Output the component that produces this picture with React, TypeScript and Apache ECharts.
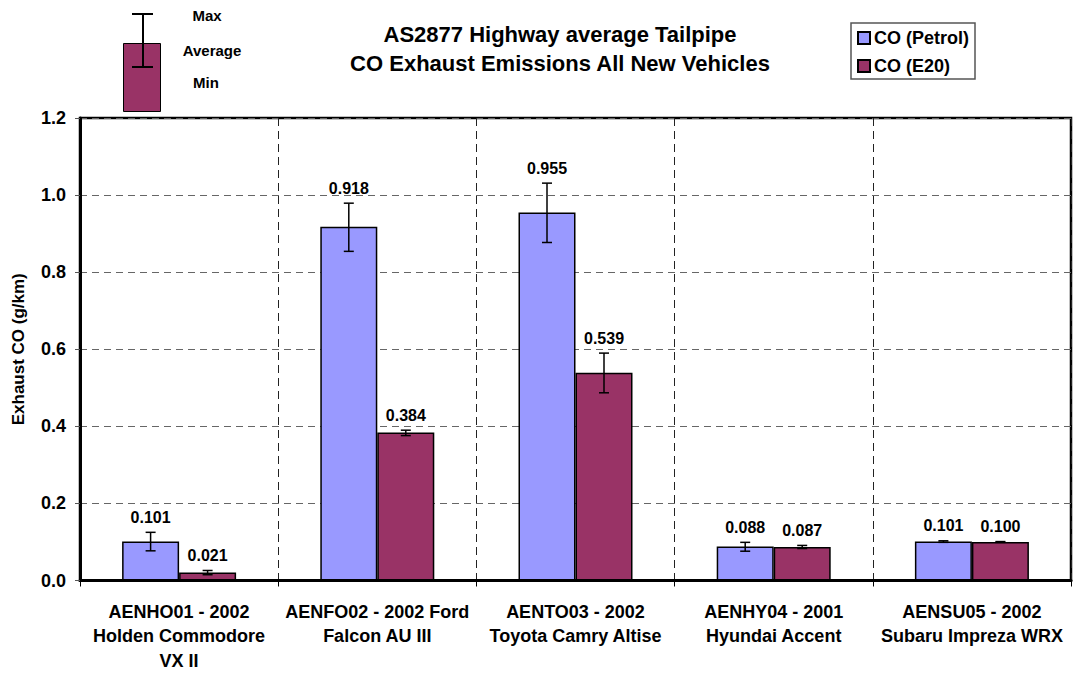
import React, { useEffect, useRef } from "react";
import * as echarts from "echarts";

const categories = [
  "AENHO01 - 2002\nHolden Commodore\nVX II",
  "AENFO02 - 2002 Ford\nFalcon AU III",
  "AENTO03 - 2002\nToyota Camry Altise",
  "AENHY04 - 2001\nHyundai Accent",
  "AENSU05 - 2002\nSubaru Impreza WRX",
];
const seriesNames = ["CO (Petrol)", "CO (E20)"];
const petrolAvg = [0.101, 0.918, 0.955, 0.088, 0.101];
const petrolMin = [0.077, 0.854, 0.877, 0.076, 0.099];
const petrolMax = [0.125, 0.979, 1.031, 0.099, 0.103];
const e20Avg = [0.021, 0.384, 0.539, 0.087, 0.1];
const e20Min = [0.015, 0.376, 0.487, 0.083, 0.099];
const e20Max = [0.026, 0.39, 0.59, 0.091, 0.101];
const yTicks = [0, 0.2, 0.4, 0.6, 0.8, 1.0, 1.2];

const FONT = "'Liberation Sans', Arial, sans-serif";
const BAR_W = 57;
const COLORS = ["#9999FF", "#993366"];

function errorSeries(name: string, avg: number[], mn: number[], mx: number[], offset: number) {
  return {
    type: "custom",
    name,
    z: 5,
    encode: { x: 0, y: [1, 2, 3] },
    data: avg.map((v, i) => [i, v, mn[i], mx[i]]),
    renderItem: (params: any, api: any) => {
      const cat = api.value(0);
      const a = api.value(1);
      const lo = api.value(2);
      const hi = api.value(3);
      const base = api.coord([cat, a]);
      const x = base[0] + offset;
      const yHi = api.coord([cat, hi])[1];
      const yLo = api.coord([cat, lo])[1];
      const cap = 5;
      const st = { stroke: "#000", lineWidth: 1.5 };
      return {
        type: "group",
        children: [
          { type: "line", shape: { x1: x, y1: yHi, x2: x, y2: yLo }, style: st },
          { type: "line", shape: { x1: x - cap, y1: yHi, x2: x + cap, y2: yHi }, style: st },
          { type: "line", shape: { x1: x - cap, y1: yLo, x2: x + cap, y2: yLo }, style: st },
          {
            type: "text",
            x,
            y: yHi - 15,
            style: {
              text: a.toFixed(3),
              fill: "#000",
              font: `bold 16px ${FONT}`,
              align: "center",
              verticalAlign: "middle",
            },
          },
        ],
      };
    },
  };
}

export default function App() {
  const ref = useRef<HTMLDivElement>(null);
  useEffect(() => {
    if (!ref.current) return;
    const chart = echarts.init(ref.current, null, { renderer: "svg" });
    chart.setOption({
      animation: false,
      backgroundColor: "#fff",
      textStyle: { fontFamily: FONT },
      title: {
        text: "AS2877 Highway average Tailpipe\nCO Exhaust Emissions All New Vehicles",
        left: 560,
        top: 20,
        padding: 0,
        textAlign: "center",
        textStyle: { fontSize: 22, fontWeight: "bold", color: "#000", lineHeight: 29, fontFamily: FONT },
      },
      legend: {
        data: seriesNames,
        orient: "vertical",
        left: 851,
        top: 23,
        padding: [6, 6, 4, 6],
        itemGap: 10,
        itemWidth: 12,
        itemHeight: 12,
        icon: "rect",
        borderColor: "#555",
        borderWidth: 1.5,
        textStyle: { fontSize: 18, fontWeight: "bold", color: "#000", fontFamily: FONT, padding: [0, 0, 0, -1] },
      },
      grid: {
        left: 80,
        right: 2,
        top: 118,
        bottom: 92,
        show: true,
        borderColor: "#000",
        borderWidth: 2.5,
        backgroundColor: "transparent",
      },
      xAxis: {
        type: "category",
        data: categories,
        axisLine: { show: true, lineStyle: { color: "#000", width: 3 } },
        axisTick: { show: true, length: 6, lineStyle: { color: "#000", width: 1 } },
        splitLine: { show: true, lineStyle: { color: "#222", type: [8, 5], width: 1 } },
        axisLabel: {
          interval: 0,
          margin: 19,
          fontSize: 18,
          fontWeight: "bold",
          color: "#000",
          lineHeight: 24.5,
          fontFamily: FONT,
        },
      },
      yAxis: {
        type: "value",
        min: yTicks[0],
        max: yTicks[yTicks.length - 1],
        interval: 0.2,
        name: "Exhaust CO (g/km)",
        nameLocation: "middle",
        nameGap: 53,
        nameTextStyle: { fontSize: 17, fontWeight: "bold", color: "#000", fontFamily: FONT },
        axisLine: { show: true, lineStyle: { color: "#000", width: 3 } },
        axisTick: { show: true, length: 5, lineStyle: { color: "#555" } },
        splitLine: { show: true, lineStyle: { color: "#666", type: [7, 5], width: 1 } },
        axisLabel: {
          margin: 14,
          fontSize: 18,
          fontWeight: "bold",
          color: "#000",
          fontFamily: FONT,
          formatter: (v: number) => v.toFixed(1),
        },
      },
      series: [
        {
          type: "bar",
          name: seriesNames[0],
          data: petrolAvg,
          barWidth: BAR_W,
          barGap: "0%",
          itemStyle: { color: COLORS[0], borderColor: "#000", borderWidth: 1.5 },
        },
        {
          type: "bar",
          name: seriesNames[1],
          data: e20Avg,
          barWidth: BAR_W,
          barGap: "0%",
          itemStyle: { color: COLORS[1], borderColor: "#000", borderWidth: 1.5 },
        },
        errorSeries("err-petrol", petrolAvg, petrolMin, petrolMax, -BAR_W / 2),
        errorSeries("err-e20", e20Avg, e20Min, e20Max, BAR_W / 2),
      ],
      graphic: [
        {
          type: "rect",
          shape: { x: 123.5, y: 43.5, width: 37, height: 68 },
          style: { fill: COLORS[1], stroke: "#000", lineWidth: 1 },
        },
        { type: "line", shape: { x1: 143, y1: 14, x2: 143, y2: 67 }, style: { stroke: "#000", lineWidth: 2 } },
        { type: "line", shape: { x1: 132, y1: 14, x2: 153, y2: 14 }, style: { stroke: "#000", lineWidth: 2 } },
        { type: "line", shape: { x1: 132, y1: 67, x2: 153, y2: 67 }, style: { stroke: "#000", lineWidth: 2 } },
        {
          type: "text",
          x: 207,
          y: 15,
          style: { text: "Max", fill: "#000", font: `bold 15px ${FONT}`, align: "center", verticalAlign: "middle" },
        },
        {
          type: "text",
          x: 212,
          y: 50,
          style: { text: "Average", fill: "#000", font: `bold 15px ${FONT}`, align: "center", verticalAlign: "middle" },
        },
        {
          type: "text",
          x: 206,
          y: 82,
          style: { text: "Min", fill: "#000", font: `bold 15px ${FONT}`, align: "center", verticalAlign: "middle" },
        },
      ],
    });
    return () => chart.dispose();
  }, []);
  return <div ref={ref} style={{ position: "absolute", left: 0, top: 0, width: 1073, height: 673 }} />;
}
